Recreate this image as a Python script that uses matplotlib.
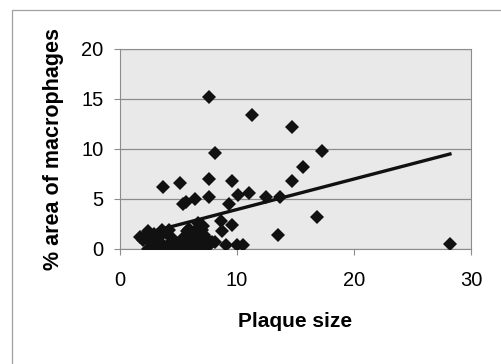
"""Scatter of macrophage area vs plaque size with linear trendline."""
import matplotlib

matplotlib.use("Agg")
import matplotlib.pyplot as plt
from matplotlib.patches import Rectangle

plt.rcParams["font.family"] = ["Liberation Sans", "DejaVu Sans"]

# plaque size (x) and % area of macrophages (y)
plaque_size = [
    7.6, 11.3, 14.7, 17.3, 8.1, 15.6, 14.7, 3.7, 5.1, 7.6, 9.6, 11.0, 10.1,
    7.6, 6.4, 5.4, 5.6, 9.3, 12.5, 13.7, 16.8, 13.5, 28.2, 8.6, 8.7, 9.6,
    9.1, 10.0, 10.5, 8.1, 1.7, 2.4, 3.6, 4.2, 6.7, 7.0, 5.7,
    2.4, 2.7, 3.0, 3.3, 3.5, 4.0, 4.3, 4.8, 5.2, 5.5, 5.8, 6.2, 6.5, 6.8,
    7.0, 7.3, 7.6, 7.9, 2.9, 3.9, 4.5, 6.0, 7.2, 5.9, 2.2, 6.6,
    2.0, 2.6, 3.1, 3.8, 4.6, 5.0, 5.4, 6.1, 6.9, 7.4, 7.1, 6.4, 2.8, 3.4,
]
macrophage_area = [
    15.2, 13.4, 12.2, 9.8, 9.6, 8.2, 6.8, 6.2, 6.6, 7.0, 6.8, 5.6, 5.4,
    5.2, 5.0, 4.5, 4.7, 4.5, 5.2, 5.2, 3.2, 1.4, 0.5, 2.8, 1.8, 2.4,
    0.4, 0.4, 0.4, 0.7, 1.2, 1.8, 1.9, 1.9, 2.6, 1.9, 1.8,
    0.0, 0.5, 0.2, 0.8, 0.0, 0.3, 0.0, 0.4, 0.0, 0.6, 0.1, 0.8, 0.3, 1.2,
    0.6, 0.0, 0.4, 0.7, 1.5, 1.6, 1.0, 1.5, 1.4, 2.0, 1.3, 1.0,
    0.9, 1.1, 1.0, 0.2, 0.1, 0.3, 1.1, 0.4, 0.2, 1.0, 2.3, 1.8, 0.0, 1.3,
]

# linear trendline endpoints
trend_x = [1.7, 28.2]
trend_y = [1.42, 9.5]

x_ticks = [0, 10, 20, 30]
y_ticks = [0, 5, 10, 15, 20]

fig = plt.figure(figsize=(5.01, 3.64), dpi=100)
fig.patches.append(Rectangle((12 / 501, -0.05), 1.2, 1 - 10 / 364 + 0.05,
                             transform=fig.transFigure, fill=False,
                             edgecolor="#a0a0a0", linewidth=0.9))

ax = fig.add_axes([120 / 501, 115 / 364, 351 / 501, 200 / 364])
ax.set_facecolor("#e9e9e9")
for s in ax.spines.values():
    s.set_color("#8c8c8c")
    s.set_linewidth(0.8)

ax.grid(axis="y", color="#8c8c8c", linewidth=0.9)
ax.set_axisbelow(True)

ax.plot(plaque_size, macrophage_area, "D", color="#111111",
        markersize=7.4, markeredgewidth=0, zorder=3)
ax.plot(trend_x, trend_y, color="#111111", linewidth=2.4, zorder=4)

ax.set_xlim(0, 30)
ax.set_ylim(0, 20)
ax.set_xticks(x_ticks)
ax.set_yticks(y_ticks)
ax.tick_params(axis="both", labelsize=14.5, color="#8c8c8c", length=4,
               width=0.8, direction="out")
ax.tick_params(axis="x", pad=12)
ax.tick_params(axis="y", pad=8)

ax.set_xlabel("Plaque size", fontsize=15, fontweight="bold", labelpad=16)
ax.set_ylabel("% area of macrophages", fontsize=15.5, fontweight="bold",
              labelpad=12)

fig.savefig("out.png", dpi=100)
plt.close(fig)
